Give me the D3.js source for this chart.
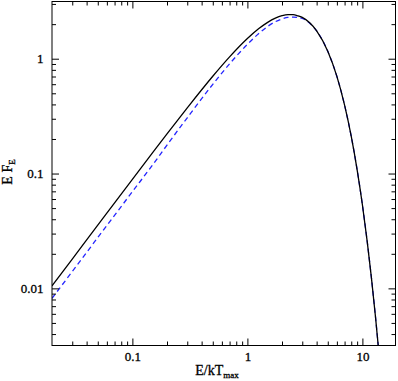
<!DOCTYPE html>
<html>
<head>
<meta charset="utf-8">
<script src="https://cdn.jsdelivr.net/npm/d3@7"></script>
<style>
  html, body { margin: 0; padding: 0; background: #fff; }
  svg { display: block; }
</style>
</head>
<body>
<svg id="chart" width="398" height="381"></svg>
<script>
// energies in units of kT_max
const energy = [0.02, 0.03, 0.05, 0.1, 0.15, 0.2, 0.3, 0.5, 0.7, 1, 1.25, 1.5, 1.75, 2, 2.25, 2.5, 2.75, 3, 3.5, 4, 5, 6, 7, 8, 9, 10, 11, 12, 13, 14];
// solid black curve
const solidFlux = [0.0105, 0.018, 0.0355, 0.0891, 0.152, 0.2215, 0.373, 0.703, 1.037, 1.498, 1.82, 2.074, 2.257, 2.372, 2.425, 2.421, 2.365, 2.289, 2.045, 1.75, 1.162, 0.701, 0.394, 0.2105, 0.1078, 0.0535, 0.0258, 0.01217, 0.00563, 0.00257];
// dashed blue curve
const dashedFlux = [0.0082, 0.014, 0.0277, 0.0695, 0.119, 0.177, 0.306, 0.598, 0.902, 1.333, 1.65, 1.91, 2.1, 2.22, 2.29, 2.30, 2.29, 2.24, 2.03, 1.75, 1.162, 0.701, 0.394, 0.2105, 0.1078, 0.0535, 0.0258, 0.01217, 0.00563, 0.00257];

const xMajor = [0.1, 1, 10];
const xMinor = [0.03, 0.04, 0.05, 0.06, 0.07, 0.08, 0.09, 0.2, 0.3, 0.4, 0.5, 0.6, 0.7, 0.8, 0.9, 2, 3, 4, 5, 6, 7, 8, 9];
const yMajor = [0.01, 0.1, 1];
const yMinor = [0.004, 0.005, 0.006, 0.007, 0.008, 0.009, 0.02, 0.03, 0.04, 0.05, 0.06, 0.07, 0.08, 0.09, 0.2, 0.3, 0.4, 0.5, 0.6, 0.7, 0.8, 0.9, 2, 3];

const plotLeft = 52, plotRight = 395.5, plotTop = 1.5, plotBottom = 345.5;
const font = "Liberation Serif";

const svg = d3.select("#chart");

const x = d3.scaleLog().domain([0.02, 19.4]).range([plotLeft, plotRight]);
const y = d3.scaleLog().domain([0.00318, 3.15]).range([plotBottom, plotTop]);

const fmt = d => (d >= 1 ? d3.format("d")(d) : String(d));

// curves
svg.append("clipPath").attr("id", "plot")
  .append("rect")
  .attr("x", plotLeft).attr("y", plotTop)
  .attr("width", plotRight - plotLeft).attr("height", plotBottom - plotTop);

const line = d3.line()
  .x(d => x(d[0]))
  .y(d => y(d[1]))
  .curve(d3.curveMonotoneX);

const curves = svg.append("g").attr("clip-path", "url(#plot)");

curves.append("path")
  .attr("d", line(d3.zip(energy, dashedFlux)))
  .attr("fill", "none")
  .attr("stroke", "#2424ff")
  .attr("stroke-width", 1.3)
  .attr("stroke-dasharray", "5,3.5");

curves.append("path")
  .attr("d", line(d3.zip(energy, solidFlux)))
  .attr("fill", "none")
  .attr("stroke", "#000")
  .attr("stroke-width", 1.3);

// axes, ticks pointing inward on all four sides
function addAxis(axisFn, scale, pos, values, size, labels) {
  const g = svg.append("g")
    .attr("transform", pos)
    .call(axisFn(scale)
      .tickValues(values)
      .tickSize(-size)
      .tickPadding(axisFn === d3.axisLeft ? 8.5 : 6.3)
      .tickFormat(labels ? fmt : ""));
  g.select(".domain").remove();
  g.selectAll(".tick line").attr("stroke", "#000").attr("stroke-width", 1);
  g.attr("font-family", font).attr("font-size", 13);
  g.selectAll("text").attr("fill", "#000")
    .attr("stroke", "#000").attr("stroke-width", 0.3);
  return g;
}

addAxis(d3.axisBottom, x, `translate(0,${plotBottom})`, xMajor, 7, true);
addAxis(d3.axisBottom, x, `translate(0,${plotBottom})`, xMinor, 4, false);
addAxis(d3.axisTop, x, `translate(0,${plotTop})`, xMajor, 7, false);
addAxis(d3.axisTop, x, `translate(0,${plotTop})`, xMinor, 4, false);
addAxis(d3.axisLeft, y, `translate(${plotLeft},0)`, yMajor, 7, true);
addAxis(d3.axisLeft, y, `translate(${plotLeft},0)`, yMinor, 4, false);
addAxis(d3.axisRight, y, `translate(${plotRight},0)`, yMajor, 7, false);
addAxis(d3.axisRight, y, `translate(${plotRight},0)`, yMinor, 4, false);

// frame
svg.append("rect")
  .attr("x", plotLeft).attr("y", plotTop)
  .attr("width", plotRight - plotLeft).attr("height", plotBottom - plotTop)
  .attr("fill", "none")
  .attr("stroke", "#000")
  .attr("stroke-width", 1);

// axis titles
const xt = svg.append("text")
  .attr("x", 217).attr("y", 375)
  .attr("text-anchor", "middle")
  .attr("font-family", font).attr("font-size", 14)
  .attr("stroke", "#000").attr("stroke-width", 0.3)
  .text("E/kT");
xt.append("tspan").attr("font-size", 9).attr("dy", 3).text("max");

const yt = svg.append("text")
  .attr("transform", "translate(12,172) rotate(-90)")
  .attr("text-anchor", "middle")
  .attr("font-family", font).attr("font-size", 14)
  .attr("stroke", "#000").attr("stroke-width", 0.3)
  .text("E F");
yt.append("tspan").attr("font-size", 9).attr("dy", 3).text("E");
</script>
</body>
</html>
